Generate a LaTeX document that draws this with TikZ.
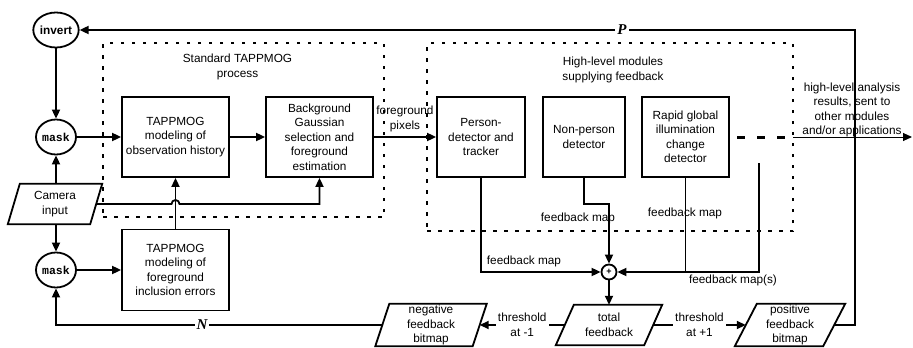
\documentclass[tikz,border=0pt]{standalone}
\usepackage{fontspec}
\setmainfont{Liberation Sans}
\newfontfamily\monob{Liberation Mono}
\newfontfamily\serifbi{Liberation Serif}
\usetikzlibrary{arrows.meta,shapes.geometric}
\newcommand\drawpara[2]{\draw[line width=1.8pt, line join=miter] ([xshift=#2]#1.north west) -- ([xshift=#2]#1.north east) -- ([xshift=-#2]#1.south east) -- ([xshift=-#2]#1.south west) -- cycle;}
\begin{document}
\begin{tikzpicture}[x=1pt,y=-1pt,
  txt/.style={font=\fontsize{11.8}{14.5}\selectfont, align=center, inner sep=0pt},
  box/.style={txt, draw, line width=1.8pt, minimum height=80},
  circ/.style={ellipse, draw, line width=1.8pt, minimum width=40, minimum height=35, inner sep=0pt},
  para/.style={txt, minimum height=40},
  dbox/.style={draw, line width=1.8pt, dash pattern=on 3.5pt off 7.5pt, inner sep=0pt},
  tip/.style={-{Triangle[length=9pt,width=8pt]}},
  conn/.style={line width=1.8pt, tip},
  thinconn/.style={line width=1pt, tip},
  lbl/.style={font=\serifbi\bfseries\itshape\fontsize{15}{15}\selectfont, fill=white, inner sep=2pt}
]
\useasboundingbox (0,0) rectangle (913,348);

% dashed groups
\node[dbox, minimum width=281, minimum height=174] (std) at (243.5,130) {};
\node[dbox, minimum width=366, minimum height=188] (high) at (610,137) {};
\node[txt] (stdl) at (237.5,67) {Standard TAPPMOG\\process};
\node[txt] (highl) at (613,70) {High-level modules\\supplying feedback};

% circles
\node[circ, font=\bfseries\fontsize{11.8}{12}\selectfont] (invert) at (56,30) {invert};
\node[circ, font=\monob\bfseries\fontsize{11.5}{12}\selectfont] (mask1) at (56,137) {mask};
\node[circ, font=\monob\bfseries\fontsize{11.5}{12}\selectfont] (mask2) at (56,270) {mask};

% camera
\node[para, minimum width=82] (camera) at (55,204) {Camera\\input};
\drawpara{camera}{6pt}

% boxes
\node[box, minimum width=107] (obs) at (175.5,137) {TAPPMOG\\modeling of\\observation history};
\node[box, minimum width=107] (bg) at (319.5,137) {Background\\Gaussian\\selection and\\foreground\\estimation};
\node[box, minimum width=107, minimum height=81] (fginc) at (175.5,270) {TAPPMOG\\modeling of\\foreground\\inclusion errors};
\node[box, minimum width=88] (person) at (481,137) {Person-\\detector and\\tracker};
\node[box, minimum width=82] (nonp) at (584,137) {Non-person\\detector};
\node[box, minimum width=87] (rapid) at (685.5,137) {Rapid global\\illumination\\change\\detector};

% sum
\node[circle, draw, line width=1.8pt, minimum size=15, inner sep=0pt, font=\bfseries\fontsize{9}{9}\selectfont] (sum) at (609,272) {+};

% bitmaps
\node[para, minimum width=88] (total) at (609,325) {total\\feedback};
\drawpara{total}{9pt}
\node[para, minimum width=97, minimum height=42] (neg) at (431,325) {negative\\feedback\\bitmap};
\drawpara{neg}{7pt}
\node[para, minimum width=88, minimum height=42] (pos) at (790,325) {positive\\feedback\\bitmap};
\drawpara{pos}{11pt}

% helper coordinates
\coordinate (nb) at (609,204);
\coordinate (dd) at (759,163);
\coordinate (ds1) at (737,137);
\coordinate (ds2) at (785,137);
\coordinate (o1) at (793,137);
\coordinate (o2) at (912,137);
\coordinate (pc) at (855,325);
\coordinate (pt) at (855,30);

% connectors left part
\draw[conn] (invert) -- (mask1);
\draw[conn] (camera.north -| mask1) -- (mask1.south);
\draw[conn] (camera.south -| mask2) -- (mask2.north);
\draw[conn] (mask1) -- (obs);
\draw[conn] (mask2) -- (fginc);
\draw[conn] (obs) -- (bg);
\draw[conn] (fginc) -- (obs);
\draw[conn] (camera.east) -- (171.5,204) arc[start angle=180, end angle=360, radius=4] -- (bg.south |- camera.east) -- (bg.south);
\draw[conn] (bg) -- (person);
\node[txt] (fgp) at (405,119) {foreground\\pixels};

% feedback maps
\draw[conn] (person.south) |- (sum.west);
\node[txt] (fm1) at (524,261) {feedback map};
\draw[conn] (nonp.south) |- (nb) -- (sum.north);
\node[txt] (fm2) at (578,218) {feedback map};
\draw[line width=1pt] (rapid.south) -- (rapid.south |- sum);
\node[txt] (fm3) at (685,213) {feedback map};
\draw[conn] (dd) |- (sum.east);
\node[txt] (fm4) at (733,280) {feedback map(s)};
\draw[line width=3pt, dash pattern=on 8pt off 12pt] (ds1) -- (ds2);

% output
\draw[thinconn] (o1) -- (o2);
\node[txt] (outl) at (852,110) {high-level analysis\\results, sent to\\other modules\\and/or applications};

% totals
\draw[conn] (sum) -- (total);
\draw[conn] (total.west) -- (neg.east) node[midway, txt, fill=white, inner sep=2pt] (th1) {threshold\\at -1};
\draw[conn] (total.east) -- (pos.west) node[midway, txt, fill=white, inner sep=2pt] (th2) {threshold\\at +1};

% P and N loops
\draw[conn] (pos.east) -- (pc) -- (pt) -- (invert.east);
\node[lbl] (P) at (622,30) {P};
\draw[conn] (neg.west) -| (mask2.south);
\node[lbl] (N) at (202,325) {N};
\end{tikzpicture}
\end{document}
